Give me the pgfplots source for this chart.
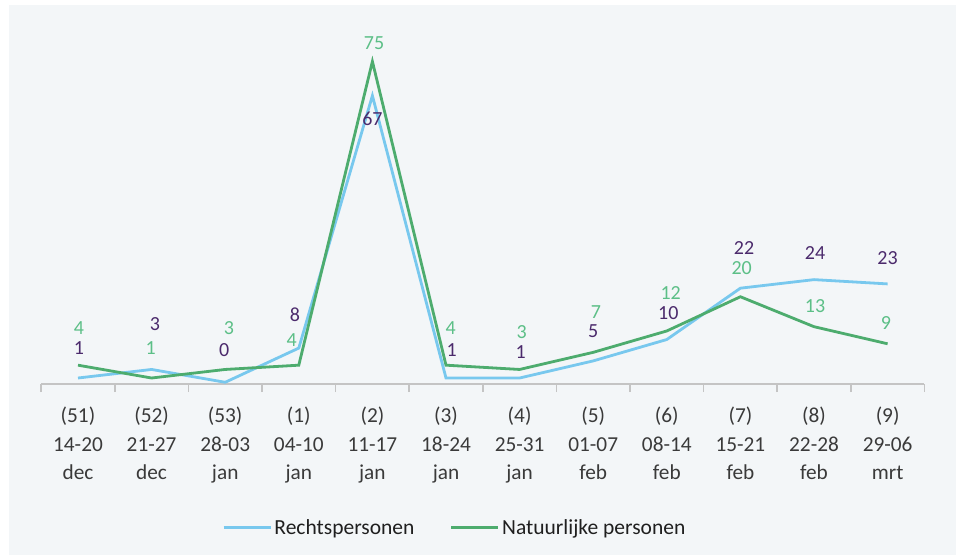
\documentclass[border=0pt]{standalone}
\usepackage{pgfplots}
\pgfplotsset{compat=1.18}
\usepackage{pgfplotstable}
\usepackage{fontspec}
\setmainfont{Carlito}
\definecolor{bg}{HTML}{F3F6F8}
\definecolor{rblue}{HTML}{78C8EE}
\definecolor{ngreen}{HTML}{4DAC6E}
\definecolor{lgreen}{HTML}{5CBF87}
\definecolor{lpurple}{HTML}{4B2A6C}
\definecolor{axgray}{HTML}{C4C4C4}
\definecolor{txt}{HTML}{3A3A3A}

\pgfplotstableread{
x y dx dy
0 1 1 29.7
1 3 3.4 45.2
2 0 -1 32.3
3 8 -3.8 33.1
4 67 0 -23.6
5 1 5.7 28
6 1 1 26.3
7 5 0 30.2
8 10 1.5 26.2
9 22 3.6 39.9
10 24 1 26.3
11 23 0 25.7
}\rechts

\pgfplotstableread{
x y dx dy
0 4 1 37.5
1 1 -1 29.7
2 3 3.8 41.2
3 4 -7 25.2
4 75 1.6 18.8
5 4 4.7 36.9
6 3 2 37.8
7 7 2.8 40.7
8 12 3.9 38.3
9 20 1.3 29.1
10 13 1 20.7
11 9 -1.6 21.1
}\natuur

\begin{document}
\begin{tikzpicture}
\fill[white] (0,0) rectangle (956pt,555pt);
\fill[bg] (9pt,0) rectangle (956pt,550pt);
\begin{axis}[
  at={(41.2pt,171pt)}, anchor=south west,
  scale only axis, width=883.2pt, height=343.9pt,
  xmin=-0.5, xmax=11.5, ymin=-0.4, ymax=80,
  axis x line=bottom, axis y line=none,
  x axis line style={-, draw=axgray, line width=1.5pt},
  tick align=outside,
  xtick={0,...,11}, major tick length=0pt,
  xticklabels={{(51)\\14-20\\dec},{(52)\\21-27\\dec},{(53)\\28-03\\jan},{(1)\\04-10\\jan},{(2)\\11-17\\jan},{(3)\\18-24\\jan},{(4)\\25-31\\jan},{(5)\\01-07\\feb},{(6)\\08-14\\feb},{(7)\\15-21\\feb},{(8)\\22-28\\feb},{(9)\\29-06\\mrt}},
  xticklabel style={align=center, font=\fontsize{21.3}{28.4}\selectfont, text=txt, anchor=north, inner sep=0pt, yshift=-23pt},
  extra x ticks={-0.5,0.5,...,11.5},
  extra x tick labels={},
  extra x tick style={major tick length=8pt, tick style={draw=axgray, line width=1.5pt}},
  ytick=\empty,
  clip=false,
  /pgf/number format/assume math mode=true,
  legend style={at={(0.4685,-0.4179)}, anchor=center, draw=none, fill=none,
    legend columns=2, font=\fontsize{21.5}{25}\selectfont, text=black!88,
    nodes={inner sep=2.5pt},
    /tikz/every even column/.append style={column sep=33pt}},
  legend image code/.code={\draw[#1] (0pt,0pt) -- (47pt,0pt);},
]
\addplot[rblue, line width=2.8pt, nodes near coords, point meta=y,
  visualization depends on={\thisrow{dx} \as \mydx},
  visualization depends on={\thisrow{dy} \as \mydy},
  every node near coord/.append style={anchor=center, text=lpurple, font=\fontsize{20}{22}\selectfont, xshift={\mydx*1pt}, yshift={\mydy*1pt}}]
  table[x=x,y=y] {\rechts};
\addlegendentry{Rechtspersonen}
\addplot[ngreen, line width=2.8pt, nodes near coords, point meta=y,
  visualization depends on={\thisrow{dx} \as \mydx},
  visualization depends on={\thisrow{dy} \as \mydy},
  every node near coord/.append style={anchor=center, text=lgreen, font=\fontsize{20}{22}\selectfont, xshift={\mydx*1pt}, yshift={\mydy*1pt}}]
  table[x=x,y=y] {\natuur};
\addlegendentry{Natuurlijke personen}
\end{axis}
\pgfresetboundingbox
\path (0,0) rectangle (956pt,555pt);
\end{tikzpicture}
\end{document}
